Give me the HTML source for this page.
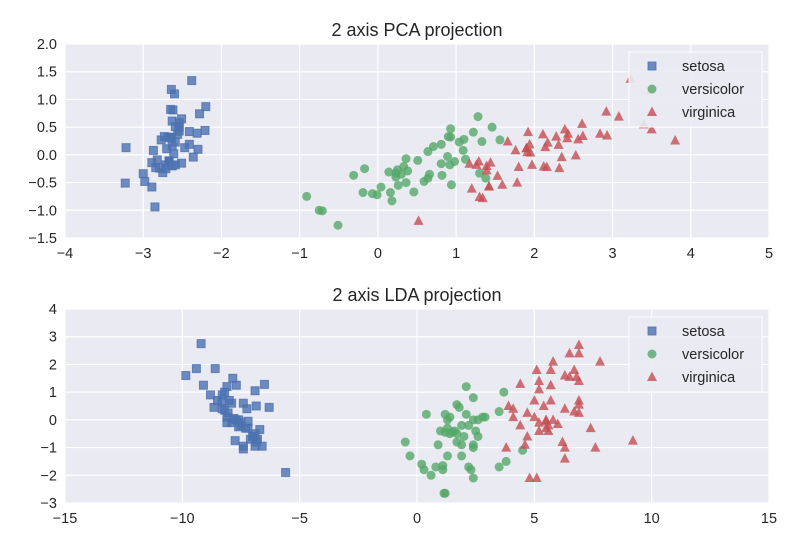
<!DOCTYPE html>
<html><head><meta charset="utf-8"><style>
body{margin:0;background:#fff;}
svg{display:block;font-family:"Liberation Sans","DejaVu Sans",sans-serif;}
</style></head><body>
<svg id="chart" width="800" height="550"></svg>
<script>
const pcaSetosa=[[-2.68,0.32],[-2.71,-0.18],[-2.89,-0.14],[-2.75,-0.32],[-2.73,0.33],[-2.28,0.74],[-2.82,-0.09],[-2.63,0.16],[-2.89,-0.58],[-2.67,-0.11],[-2.51,0.65],[-2.61,0.02],[-2.79,-0.24],[-3.23,-0.51],[-2.64,1.18],[-2.38,1.34],[-2.62,0.81],[-2.65,0.31],[-2.20,0.87],[-2.59,0.51],[-2.31,0.39],[-2.54,0.43],[-3.22,0.13],[-2.30,0.10],[-2.36,-0.04],[-2.51,-0.15],[-2.47,0.13],[-2.56,0.37],[-2.64,0.31],[-2.63,-0.20],[-2.59,-0.18],[-2.41,0.42],[-2.65,0.82],[-2.60,1.10],[-2.67,-0.11],[-2.87,0.08],[-2.63,0.61],[-2.67,-0.11],[-2.98,-0.48],[-2.59,0.23],[-2.77,0.27],[-2.85,-0.94],[-3.00,-0.34],[-2.41,0.19],[-2.21,0.44],[-2.71,-0.25],[-2.54,0.50],[-2.84,-0.23],[-2.54,0.58],[-2.70,0.11]];
const pcaVersicolor=[[1.28,0.69],[0.93,0.32],[1.46,0.50],[0.18,-0.83],[1.09,0.08],[0.64,-0.42],[1.10,0.28],[-0.75,-1.00],[1.04,0.23],[-0.01,-0.72],[-0.51,-1.27],[0.51,-0.10],[0.26,-0.55],[0.98,-0.12],[-0.17,-0.25],[0.93,0.47],[0.66,-0.35],[0.23,-0.33],[0.94,-0.54],[0.04,-0.58],[1.12,-0.08],[0.36,-0.07],[1.30,-0.33],[0.92,-0.18],[0.71,0.15],[0.90,0.33],[1.33,0.24],[1.56,0.27],[0.81,-0.16],[-0.31,-0.37],[-0.07,-0.70],[-0.19,-0.68],[0.14,-0.31],[1.38,-0.42],[0.59,-0.48],[0.81,0.19],[1.22,0.41],[0.82,-0.37],[0.25,-0.27],[0.16,-0.68],[0.46,-0.67],[0.89,-0.03],[0.23,-0.40],[-0.71,-1.01],[0.36,-0.50],[0.33,-0.21],[0.38,-0.29],[0.64,0.06],[-0.91,-0.75],[0.30,-0.35]];
const pcaVirginica=[[2.53,-0.01],[1.42,-0.57],[2.62,0.34],[1.97,-0.18],[2.35,-0.04],[3.40,0.55],[0.52,-1.19],[2.93,0.35],[2.32,-0.24],[2.92,0.78],[1.66,0.24],[1.80,-0.22],[2.17,0.22],[1.34,-0.78],[1.59,-0.54],[1.90,0.12],[1.95,0.04],[3.49,1.18],[3.80,0.26],[1.30,-0.76],[2.43,0.38],[1.20,-0.61],[3.50,0.46],[1.39,-0.20],[2.28,0.33],[2.61,0.56],[1.26,-0.18],[1.29,-0.12],[2.12,-0.21],[2.39,0.46],[2.84,0.38],[3.23,1.37],[2.16,-0.22],[1.44,-0.14],[1.78,-0.50],[3.08,0.69],[2.14,0.14],[1.91,0.05],[1.17,-0.16],[2.11,0.37],[2.31,0.18],[1.92,0.41],[1.42,-0.57],[2.56,0.28],[2.42,0.30],[1.94,0.19],[1.53,-0.38],[1.76,0.08],[1.90,0.12],[1.39,-0.28]];
const ldaSetosa=[[-9.2,2.75],[-9.4,1.85],[-8.6,1.85],[-9.85,1.6],[-9.1,1.25],[-7.85,1.5],[-7.7,1.25],[-8.1,1.2],[-6.9,1.05],[-6.5,1.28],[-8.8,0.9],[-8.2,1.0],[-8.5,0.7],[-8.3,0.65],[-8.0,0.7],[-7.9,0.6],[-7.4,0.6],[-8.65,0.45],[-7.25,0.4],[-6.85,0.5],[-6.3,0.45],[-8.2,0.35],[-8.05,0.25],[-8.1,0.1],[-7.8,0.05],[-7.6,0.0],[-7.9,-0.1],[-8.1,-0.1],[-7.5,-0.2],[-7.2,-0.05],[-7.2,-0.3],[-7.3,-0.3],[-7.6,-0.25],[-6.7,-0.35],[-6.9,-0.5],[-7.0,-0.6],[-7.1,-0.7],[-6.85,-0.8],[-7.75,-0.75],[-7.4,-0.95],[-7.4,-1.05],[-6.9,-0.95],[-6.6,-0.95],[-5.6,-1.9],[-8.3,0.4],[-7.7,0.0],[-7.0,-0.6],[-8.3,0.9],[-7.5,-0.1],[-6.8,-0.7]];
const ldaVersicolor=[[2.1,1.2],[2.4,0.8],[3.7,1.0],[1.7,0.55],[1.8,0.45],[0.4,0.2],[1.2,0.2],[1.4,0.1],[1.3,0.0],[2.1,0.2],[2.4,0.0],[2.6,0.0],[2.8,0.1],[2.9,0.1],[3.5,0.3],[1.9,-0.2],[2.2,-0.2],[1.0,-0.4],[1.2,-0.45],[1.4,-0.5],[1.6,-0.4],[1.7,-0.5],[2.5,-0.4],[2.6,-0.6],[-0.5,-0.8],[0.9,-0.9],[1.7,-0.8],[1.9,-0.9],[2.4,-0.9],[2.4,-1.0],[4.5,-1.1],[-0.3,-1.3],[1.3,-1.3],[1.9,-1.3],[0.2,-1.6],[0.3,-1.8],[0.6,-2.0],[0.8,-1.7],[1.1,-1.65],[1.1,-1.8],[2.2,-1.7],[2.3,-1.8],[2.4,-2.1],[3.5,-1.7],[3.8,-1.5],[1.2,-2.65],[1.15,-2.65],[1.3,-0.3],[2.0,-0.6],[1.5,-0.45]];
const ldaVirginica=[[6.9,2.7],[6.5,2.4],[6.9,2.4],[5.8,2.1],[7.8,2.1],[5.1,1.8],[5.7,1.8],[6.7,1.8],[6.3,1.6],[6.8,1.55],[6.9,1.4],[4.4,1.3],[5.2,1.4],[5.7,1.25],[5.2,1.1],[5.0,0.7],[5.7,0.7],[6.9,0.7],[6.9,0.55],[3.9,0.5],[4.1,0.4],[5.4,0.5],[6.3,0.4],[6.7,0.3],[6.9,0.25],[4.7,0.25],[4.1,0.1],[5.0,0.1],[5.5,0.0],[5.2,-0.1],[5.5,-0.05],[5.6,-0.2],[4.4,-0.2],[6.0,-0.15],[7.4,-0.3],[5.2,-0.4],[5.6,-0.4],[4.7,-0.6],[6.2,-0.8],[9.2,-0.75],[3.8,-1.0],[4.6,-0.9],[6.3,-1.0],[7.6,-1.0],[6.3,-1.4],[4.8,-2.1],[5.1,-2.1],[5.5,-0.3],[6.5,1.55],[5.8,0.0]];
const pcaXTicks=[-4,-3,-2,-1,0,1,2,3,4,5];
const pcaYTicks=[-1.5,-1.0,-0.5,0.0,0.5,1.0,1.5,2.0];
const ldaXTicks=[-15,-10,-5,0,5,10,15];
const ldaYTicks=[-3,-2,-1,0,1,2,3,4];
const classNames=['setosa','versicolor','virginica'];

const NS='http://www.w3.org/2000/svg';
const svg=document.getElementById('chart');
const COLORS=['#4c72b0','#55a868','#c44e52'];
const SHAPES=['square','circle','triangle'];
function mk(tag,attrs,parent){const e=document.createElementNS(NS,tag);for(const k in attrs)e.setAttribute(k,attrs[k]);(parent||svg).appendChild(e);return e;}
function marker(shape,cx,cy,color,g){
  let e;
  if(shape==='square'){e=mk('rect',{x:cx-4,y:cy-4,width:8,height:8,fill:color,'fill-opacity':0.8,stroke:color,'stroke-opacity':0.8,'stroke-width':1},g);}
  else if(shape==='circle'){e=mk('circle',{cx:cx,cy:cy,r:4.5,fill:color,'fill-opacity':0.8},g);}
  else{e=mk('polygon',{points:`${cx},${cy-5.5} ${cx+5},${cy+4} ${cx-5},${cy+4}`,fill:color,'fill-opacity':0.8},g);}
  return e;
}
function panel(cfg){
  const {id,title,left,right,top,bottom,xmin,xmax,ymin,ymax,xt,yt,series,ydec,leg}=cfg;
  const g=mk('g',{});
  
  
  const sx=v=>left+(v-xmin)/(xmax-xmin)*(right-left);
  const sy=v=>bottom-(v-ymin)/(ymax-ymin)*(bottom-top);
  const bg=mk('rect',{x:left,y:top,width:right-left,height:bottom-top,fill:'#eaeaf2'},g);
  
  
  xt.forEach(v=>{
    const l=mk('line',{x1:sx(v),x2:sx(v),y1:top,y2:bottom,stroke:'#fff','stroke-width':1.2},g);
    
    
    const t=mk('text',{x:sx(v),y:bottom+20,'text-anchor':'middle','font-size':14.5,fill:'#262626'},g);
    t.textContent=(v<0?'\u2212'+Math.abs(v):String(v));
    
    
  });
  yt.forEach(v=>{
    const l=mk('line',{x1:left,x2:right,y1:sy(v),y2:sy(v),stroke:'#fff','stroke-width':1.2},g);
    
    
    const s=ydec?Math.abs(v).toFixed(1):String(Math.abs(v));
    const t=mk('text',{x:left-8,y:sy(v)+5,'text-anchor':'end','font-size':14.5,fill:'#262626'},g);
    t.textContent=(v<0?'\u2212':'')+s;
    
    
  });
  series.forEach((pts,i)=>{
    const sg=mk('g',{},g);
    
    
    pts.forEach(p=>{
      const m=marker(SHAPES[i],sx(p[0]),sy(p[1]),COLORS[i],sg);
      
      
    });
  });
  const tt=mk('text',{x:(left+right)/2,y:top-8,'text-anchor':'middle','font-size':18,fill:'#262626'},g);
  tt.textContent=title;
  
  
  const lg=mk('g',{},g);
  
  
  mk('rect',{x:leg[0],y:leg[1],width:133,height:75,fill:'#eaeaf2',stroke:'#fff','stroke-width':1,'fill-opacity':0.9},lg);
  classNames.forEach((n,i)=>{
    const cy=leg[1]+14+i*23;
    const e=mk('g',{},lg);
    
    
    marker(SHAPES[i],leg[0]+23,cy,COLORS[i],e);
    const t=mk('text',{x:leg[0]+53,y:cy+5,'font-size':14.5,fill:'#262626'},e);
    t.textContent=n;
  });
}
panel({id:'pca',title:'2 axis PCA projection',left:65,right:769,top:44,bottom:238,xmin:-4,xmax:5,ymin:-1.5,ymax:2.0,xt:pcaXTicks,yt:pcaYTicks,series:[pcaSetosa,pcaVersicolor,pcaVirginica],ydec:true,leg:[629,52]});
panel({id:'lda',title:'2 axis LDA projection',left:65,right:769,top:309,bottom:503,xmin:-15,xmax:15,ymin:-3,ymax:4,xt:ldaXTicks,yt:ldaYTicks,series:[ldaSetosa,ldaVersicolor,ldaVirginica],ydec:false,leg:[629,317]});
</script>
</body></html>
